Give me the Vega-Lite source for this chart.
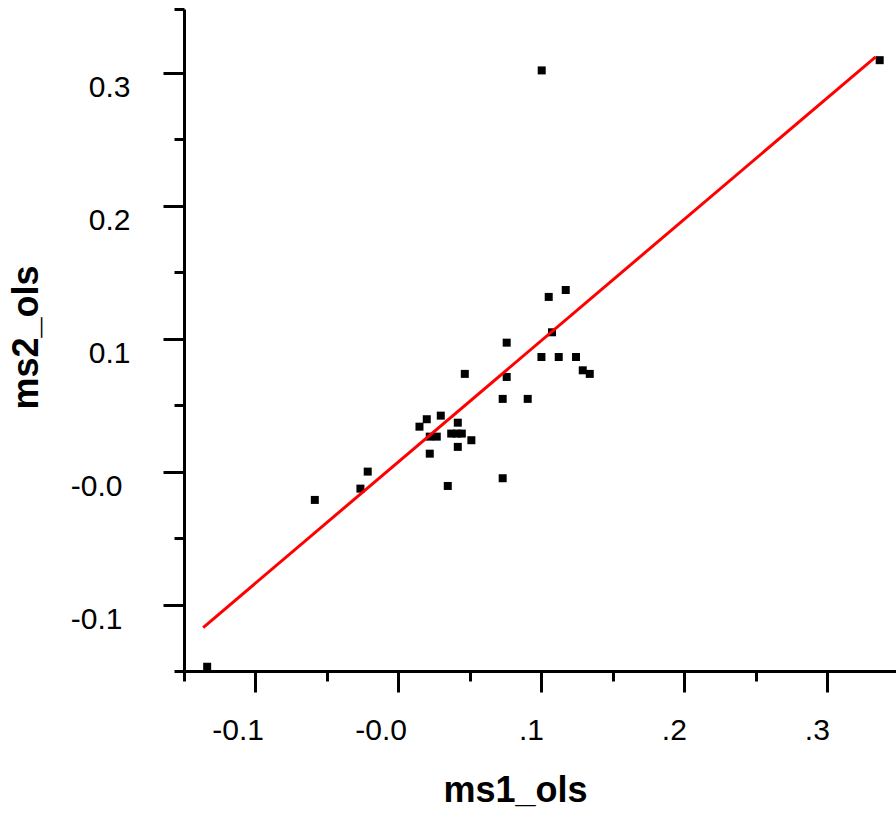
{
  "$schema": "https://vega.github.io/schema/vega-lite/v6.json",
  "autosize": {"type": "none"},
  "padding": {"left": 184, "top": 9, "right": 0, "bottom": 144},
  "width": 712,
  "height": 662,
  "background": "white",
  "config": {
    "view": {"stroke": null},
    "font": "Liberation Sans"
  },
  "datasets": {
    "scores": [
      {"ms1_ols": -0.1338, "ms2_ols": -0.1468},
      {"ms1_ols": -0.0585, "ms2_ols": -0.0213},
      {"ms1_ols": -0.0266, "ms2_ols": -0.0128},
      {"ms1_ols": -0.0215, "ms2_ols": 0.0},
      {"ms1_ols": 0.0147, "ms2_ols": 0.0338},
      {"ms1_ols": 0.0198, "ms2_ols": 0.0394},
      {"ms1_ols": 0.0296, "ms2_ols": 0.0421},
      {"ms1_ols": 0.0219, "ms2_ols": 0.0263},
      {"ms1_ols": 0.0268, "ms2_ols": 0.0263},
      {"ms1_ols": 0.0415, "ms2_ols": 0.0368},
      {"ms1_ols": 0.0369, "ms2_ols": 0.0286},
      {"ms1_ols": 0.0408, "ms2_ols": 0.0286},
      {"ms1_ols": 0.0443, "ms2_ols": 0.0286},
      {"ms1_ols": 0.051, "ms2_ols": 0.0236},
      {"ms1_ols": 0.0415, "ms2_ols": 0.0186},
      {"ms1_ols": 0.0219, "ms2_ols": 0.0135},
      {"ms1_ols": 0.0345, "ms2_ols": -0.0108},
      {"ms1_ols": 0.0464, "ms2_ols": 0.0735},
      {"ms1_ols": 0.0729, "ms2_ols": -0.005},
      {"ms1_ols": 0.0729, "ms2_ols": 0.0547},
      {"ms1_ols": 0.0904, "ms2_ols": 0.0547},
      {"ms1_ols": 0.0757, "ms2_ols": 0.097},
      {"ms1_ols": 0.0757, "ms2_ols": 0.0712},
      {"ms1_ols": 0.1, "ms2_ols": 0.0862},
      {"ms1_ols": 0.1121, "ms2_ols": 0.0862},
      {"ms1_ols": 0.1242, "ms2_ols": 0.0862},
      {"ms1_ols": 0.1051, "ms2_ols": 0.1314},
      {"ms1_ols": 0.117, "ms2_ols": 0.1366},
      {"ms1_ols": 0.1074, "ms2_ols": 0.1048},
      {"ms1_ols": 0.1289, "ms2_ols": 0.0762},
      {"ms1_ols": 0.1338, "ms2_ols": 0.0735},
      {"ms1_ols": 0.1002, "ms2_ols": 0.3018},
      {"ms1_ols": 0.3366, "ms2_ols": 0.3095}
    ],
    "fit": [
      {"ms1_ols": -0.1366, "ms2_ols": -0.1173},
      {"ms1_ols": 0.3338, "ms2_ols": 0.312}
    ]
  },
  "layer": [
    {
      "data": {"name": "scores"},
      "mark": {"type": "point", "shape": "square", "filled": true, "size": 64, "color": "black", "opacity": 1, "strokeWidth": 0},
      "encoding": {
        "x": {
          "field": "ms1_ols",
          "type": "quantitative",
          "scale": {"domain": [-0.15, 0.348], "nice": false, "zero": false},
          "axis": {
            "orient": "bottom",
            "zindex": 1,
            "grid": false,
            "values": [-0.15, -0.1, -0.05, 0, 0.05, 0.1, 0.15, 0.2, 0.25, 0.3],
            "labelExpr": "abs(datum.value*10 - round(datum.value*10)) > 0.001 ? '' : datum.value < -0.05 ? '-0.1' : datum.value < 0.05 ? '-0.0' : '.' + format(datum.value*10, '.0f')",
            "domainColor": "black",
            "domainWidth": 3,
            "tickColor": "black",
            "tickWidth": 3,
            "tickSize": {"condition": {"test": "abs(datum.value*10 - round(datum.value*10)) < 0.001", "value": 21}, "value": 10},
            "labelFont": "Liberation Sans",
            "labelFontSize": 30,
            "labelColor": "black",
            "labelAlign": "right",
            "labelBaseline": "alphabetic",
            "labelPadding": 47,
            "labelOffset": {"condition": {"test": "datum.value < 0.05", "value": 8}, "value": 2},
            "labelFlush": false,
            "labelOverlap": false,
            "title": "ms1_ols",
            "titleFont": "Liberation Sans",
            "titleFontSize": 36,
            "titleFontWeight": "bold",
            "titleColor": "black",
            "titleX": 331,
            "titleY": 130,
            "titleAlign": "center",
            "titleBaseline": "alphabetic"
          }
        },
        "y": {
          "field": "ms2_ols",
          "type": "quantitative",
          "scale": {"domain": [-0.15, 0.348], "nice": false, "zero": false},
          "axis": {
            "orient": "left",
            "zindex": 1,
            "grid": false,
            "values": [-0.15, -0.1, -0.05, 0, 0.05, 0.1, 0.15, 0.2, 0.25, 0.3, 0.348],
            "labelExpr": "abs(datum.value*10 - round(datum.value*10)) > 0.001 ? '' : datum.value < -0.05 ? '-0.1' : datum.value < 0.05 ? '-0.0' : format(datum.value, '.1f')",
            "domainColor": "black",
            "domainWidth": 3,
            "tickColor": "black",
            "tickWidth": 3,
            "tickSize": {"condition": {"test": "abs(datum.value*10 - round(datum.value*10)) < 0.001", "value": 21}, "value": 10},
            "labelFont": "Liberation Sans",
            "labelFontSize": 30,
            "labelColor": "black",
            "labelAlign": "right",
            "labelBaseline": "alphabetic",
            "labelOffset": 23.5,
            "labelPadding": {"condition": {"test": "datum.value < 0.05", "value": 41}, "value": 33},
            "labelFlush": false,
            "labelOverlap": false,
            "title": "ms2_ols",
            "titleFont": "Liberation Sans",
            "titleFontSize": 36,
            "titleFontWeight": "bold",
            "titleColor": "black",
            "titleAngle": -90,
            "titleX": -147,
            "titleY": 328,
            "titleAlign": "center",
            "titleBaseline": "alphabetic"
          }
        }
      }
    },
    {
      "data": {"name": "fit"},
      "mark": {"type": "line", "color": "#ff0000", "strokeWidth": 3},
      "encoding": {
        "x": {"field": "ms1_ols", "type": "quantitative"},
        "y": {"field": "ms2_ols", "type": "quantitative"}
      }
    }
  ]
}
